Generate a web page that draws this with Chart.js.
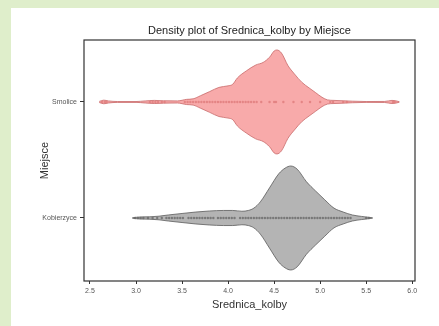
<!DOCTYPE html>
<html>
<head>
<meta charset="utf-8">
<script src="https://cdn.jsdelivr.net/npm/chart.js@4.4.1/dist/chart.umd.min.js"></script>
<style>
    html, body { margin: 0; padding: 0; background: #dfeecb; }
    body { width: 439px; height: 326px; position: relative; overflow: hidden; }
    #panel { position: absolute; left: 11px; top: 8px; width: 428px; height: 318px; background: #fff; }
</style>
</head>
<body>
<div id="panel"><canvas id="violinChart" width="428" height="318"></canvas></div>
<script>
// Categories (top to bottom) and their y positions
const groups = ['Smolice', 'Kobierzyce'];
const groupPos = [2, 1];

// Density outline for Smolice (relative density, max = 1)
const smoliceX = [2.60, 2.65, 2.70, 2.80, 3.00, 3.10, 3.20, 3.30, 3.45, 3.55, 3.62, 3.70, 3.80, 3.90, 4.00, 4.05, 4.10, 4.20, 4.30, 4.38, 4.45, 4.50, 4.53, 4.58, 4.65, 4.72, 4.80, 4.88, 4.95, 5.02, 5.08, 5.15, 5.25, 5.35, 5.50, 5.70, 5.78, 5.82, 5.86];
const smoliceDensity = [0.01, 0.035, 0.02, 0.008, 0.008, 0.02, 0.03, 0.023, 0.02, 0.05, 0.06, 0.12, 0.2, 0.28, 0.31, 0.34, 0.46, 0.6, 0.71, 0.76, 0.86, 0.98, 1.0, 0.94, 0.7, 0.54, 0.38, 0.27, 0.18, 0.09, 0.04, 0.03, 0.023, 0.015, 0.008, 0.01, 0.03, 0.023, 0.005];

// Density outline for Kobierzyce
const kobierzyceX = [2.96, 3.05, 3.15, 3.25, 3.35, 3.50, 3.65, 3.80, 3.95, 4.05, 4.15, 4.22, 4.28, 4.35, 4.45, 4.55, 4.62, 4.68, 4.75, 4.85, 4.95, 5.05, 5.15, 5.25, 5.35, 5.45, 5.52, 5.57];
const kobierzyceDensity = [0.005, 0.02, 0.023, 0.035, 0.058, 0.087, 0.115, 0.135, 0.145, 0.145, 0.13, 0.145, 0.19, 0.31, 0.58, 0.85, 0.96, 1.0, 0.94, 0.7, 0.52, 0.35, 0.19, 0.115, 0.058, 0.03, 0.015, 0.004];

// Individual observations drawn along the centre line
const smoliceObs = [2.63, 2.66, 2.68, 3.15, 3.18, 3.21, 3.24, 3.28, 3.31, 3.53, 3.56, 3.59, 3.62, 3.65, 3.68, 3.71, 3.74, 3.77, 3.80, 3.83, 3.86, 3.89, 3.92, 3.95, 3.98, 4.01, 4.04, 4.07, 4.10, 4.13, 4.16, 4.19, 4.22, 4.25, 4.28, 4.31, 4.36, 4.45, 4.50, 4.52, 4.60, 4.71, 4.80, 4.89, 5.00, 5.11, 5.14, 5.25, 5.29, 5.79, 5.81];
const kobierzyceObs = [2.99, 3.02, 3.05, 3.08, 3.13, 3.18, 3.23, 3.28, 3.33, 3.36, 3.39, 3.42, 3.45, 3.48, 3.51, 3.57, 3.60, 3.63, 3.66, 3.69, 3.72, 3.75, 3.78, 3.81, 3.84, 3.89, 3.92, 3.95, 3.98, 4.01, 4.04, 4.07, 4.13, 4.16, 4.19, 4.22, 4.25, 4.28, 4.31, 4.34, 4.37, 4.40, 4.43, 4.46, 4.49, 4.52, 4.55, 4.58, 4.61, 4.64, 4.67, 4.70, 4.73, 4.76, 4.79, 4.82, 4.85, 4.88, 4.91, 4.94, 4.97, 5.00, 5.03, 5.06, 5.09, 5.12, 5.15, 5.18, 5.21, 5.24, 5.27, 5.30, 5.33, 5.50, 5.53];

// Axis ticks
const xTicks = [2.5, 3.0, 3.5, 4.0, 4.5, 5.0, 5.5, 6.0];

const titleText = 'Density plot of Srednica_kolby by Miejsce';
const fontFamily = '"Liberation Sans", Arial, sans-serif';
const halfWidth = 0.448; // max violin half width in y units

// Build upper/lower outline of a violin
function outline(xs, dens, pos, sign) {
    return xs.map((x, i) => ({ x: x, y: pos + sign * dens[i] * halfWidth }));
}

function violin(xs, dens, pos, fillColor, lineColor) {
    const common = {
        type: 'line',
        borderColor: lineColor,
        borderWidth: 0.8,
        pointRadius: 0,
        cubicInterpolationMode: 'monotone',
        order: 2
    };
    return [
        Object.assign({}, common, { data: outline(xs, dens, pos, 1), fill: false }),
        Object.assign({}, common, { data: outline(xs, dens, pos, -1), fill: '-1', backgroundColor: fillColor })
    ];
}

function dots(obs, pos, color) {
    return {
        type: 'scatter',
        data: obs.map(v => ({ x: v, y: pos })),
        pointRadius: 1.2,
        pointBorderWidth: 0,
        backgroundColor: color,
        order: 1
    };
}

// Draws the title over the plot area and the box around it
const framePlugin = {
    id: 'frame',
    afterDraw(chart) {
        const { ctx, chartArea } = chart;
        ctx.save();
        ctx.strokeStyle = '#333';
        ctx.lineWidth = 1.2;
        ctx.strokeRect(chartArea.left, chartArea.top, chartArea.right - chartArea.left, chartArea.bottom - chartArea.top);
        ctx.font = '11px ' + fontFamily;
        ctx.fillStyle = '#222';
        ctx.textAlign = 'center';
        ctx.textBaseline = 'middle';
        ctx.fillText(titleText, (chartArea.left + chartArea.right) / 2, chartArea.top - 9);
        ctx.restore();
    }
};

const datasets = [
    ...violin(smoliceX, smoliceDensity, groupPos[0], 'rgba(248, 170, 170, 1)', 'rgba(200, 105, 105, 1)'),
    ...violin(kobierzyceX, kobierzyceDensity, groupPos[1], 'rgba(180, 180, 180, 1)', 'rgba(90, 90, 90, 1)'),
    dots(smoliceObs, groupPos[0], 'rgba(222, 120, 120, 0.75)'),
    dots(kobierzyceObs, groupPos[1], 'rgba(105, 105, 105, 0.8)')
];

new Chart(document.getElementById('violinChart'), {
    data: { datasets: datasets },
    plugins: [framePlugin],
    options: {
        responsive: false,
        animation: false,
        devicePixelRatio: 1,
        layout: { padding: { top: 32, right: 24, left: 0, bottom: 0 } },
        plugins: {
            legend: { display: false },
            tooltip: { enabled: false }
        },
        scales: {
            x: {
                type: 'linear',
                min: 2.435,
                max: 6.03,
                afterBuildTicks: (scale) => { scale.ticks = xTicks.map(v => ({ value: v })); },
                afterFit: (scale) => { scale.height = 45; },
                grid: { display: true, drawOnChartArea: false, drawTicks: true, tickLength: 3, color: '#333' },
                border: { display: false },
                ticks: {
                    padding: 3,
                    color: '#555',
                    font: { family: fontFamily, size: 7 },
                    maxRotation: 0,
                    callback: (v) => Number(v).toFixed(1)
                },
                title: {
                    display: true,
                    text: 'Srednica_kolby',
                    color: '#333',
                    font: { family: fontFamily, size: 11 },
                    padding: { top: 0, bottom: 14 }
                }
            },
            y: {
                type: 'linear',
                min: 0.457,
                max: 2.534,
                afterBuildTicks: (scale) => { scale.ticks = groupPos.map(v => ({ value: v })); },
                afterFit: (scale) => { scale.width = 73; },
                grid: { display: true, drawOnChartArea: false, drawTicks: true, tickLength: 4, color: '#333' },
                border: { display: false },
                ticks: {
                    padding: 3,
                    color: '#555',
                    font: { family: fontFamily, size: 7 },
                    callback: (v) => groups[groupPos.indexOf(v)]
                },
                title: {
                    display: true,
                    text: 'Miejsce',
                    color: '#333',
                    font: { family: fontFamily, size: 11 },
                    padding: { top: 27, bottom: 0 }
                }
            }
        }
    }
});
</script>
</body>
</html>
